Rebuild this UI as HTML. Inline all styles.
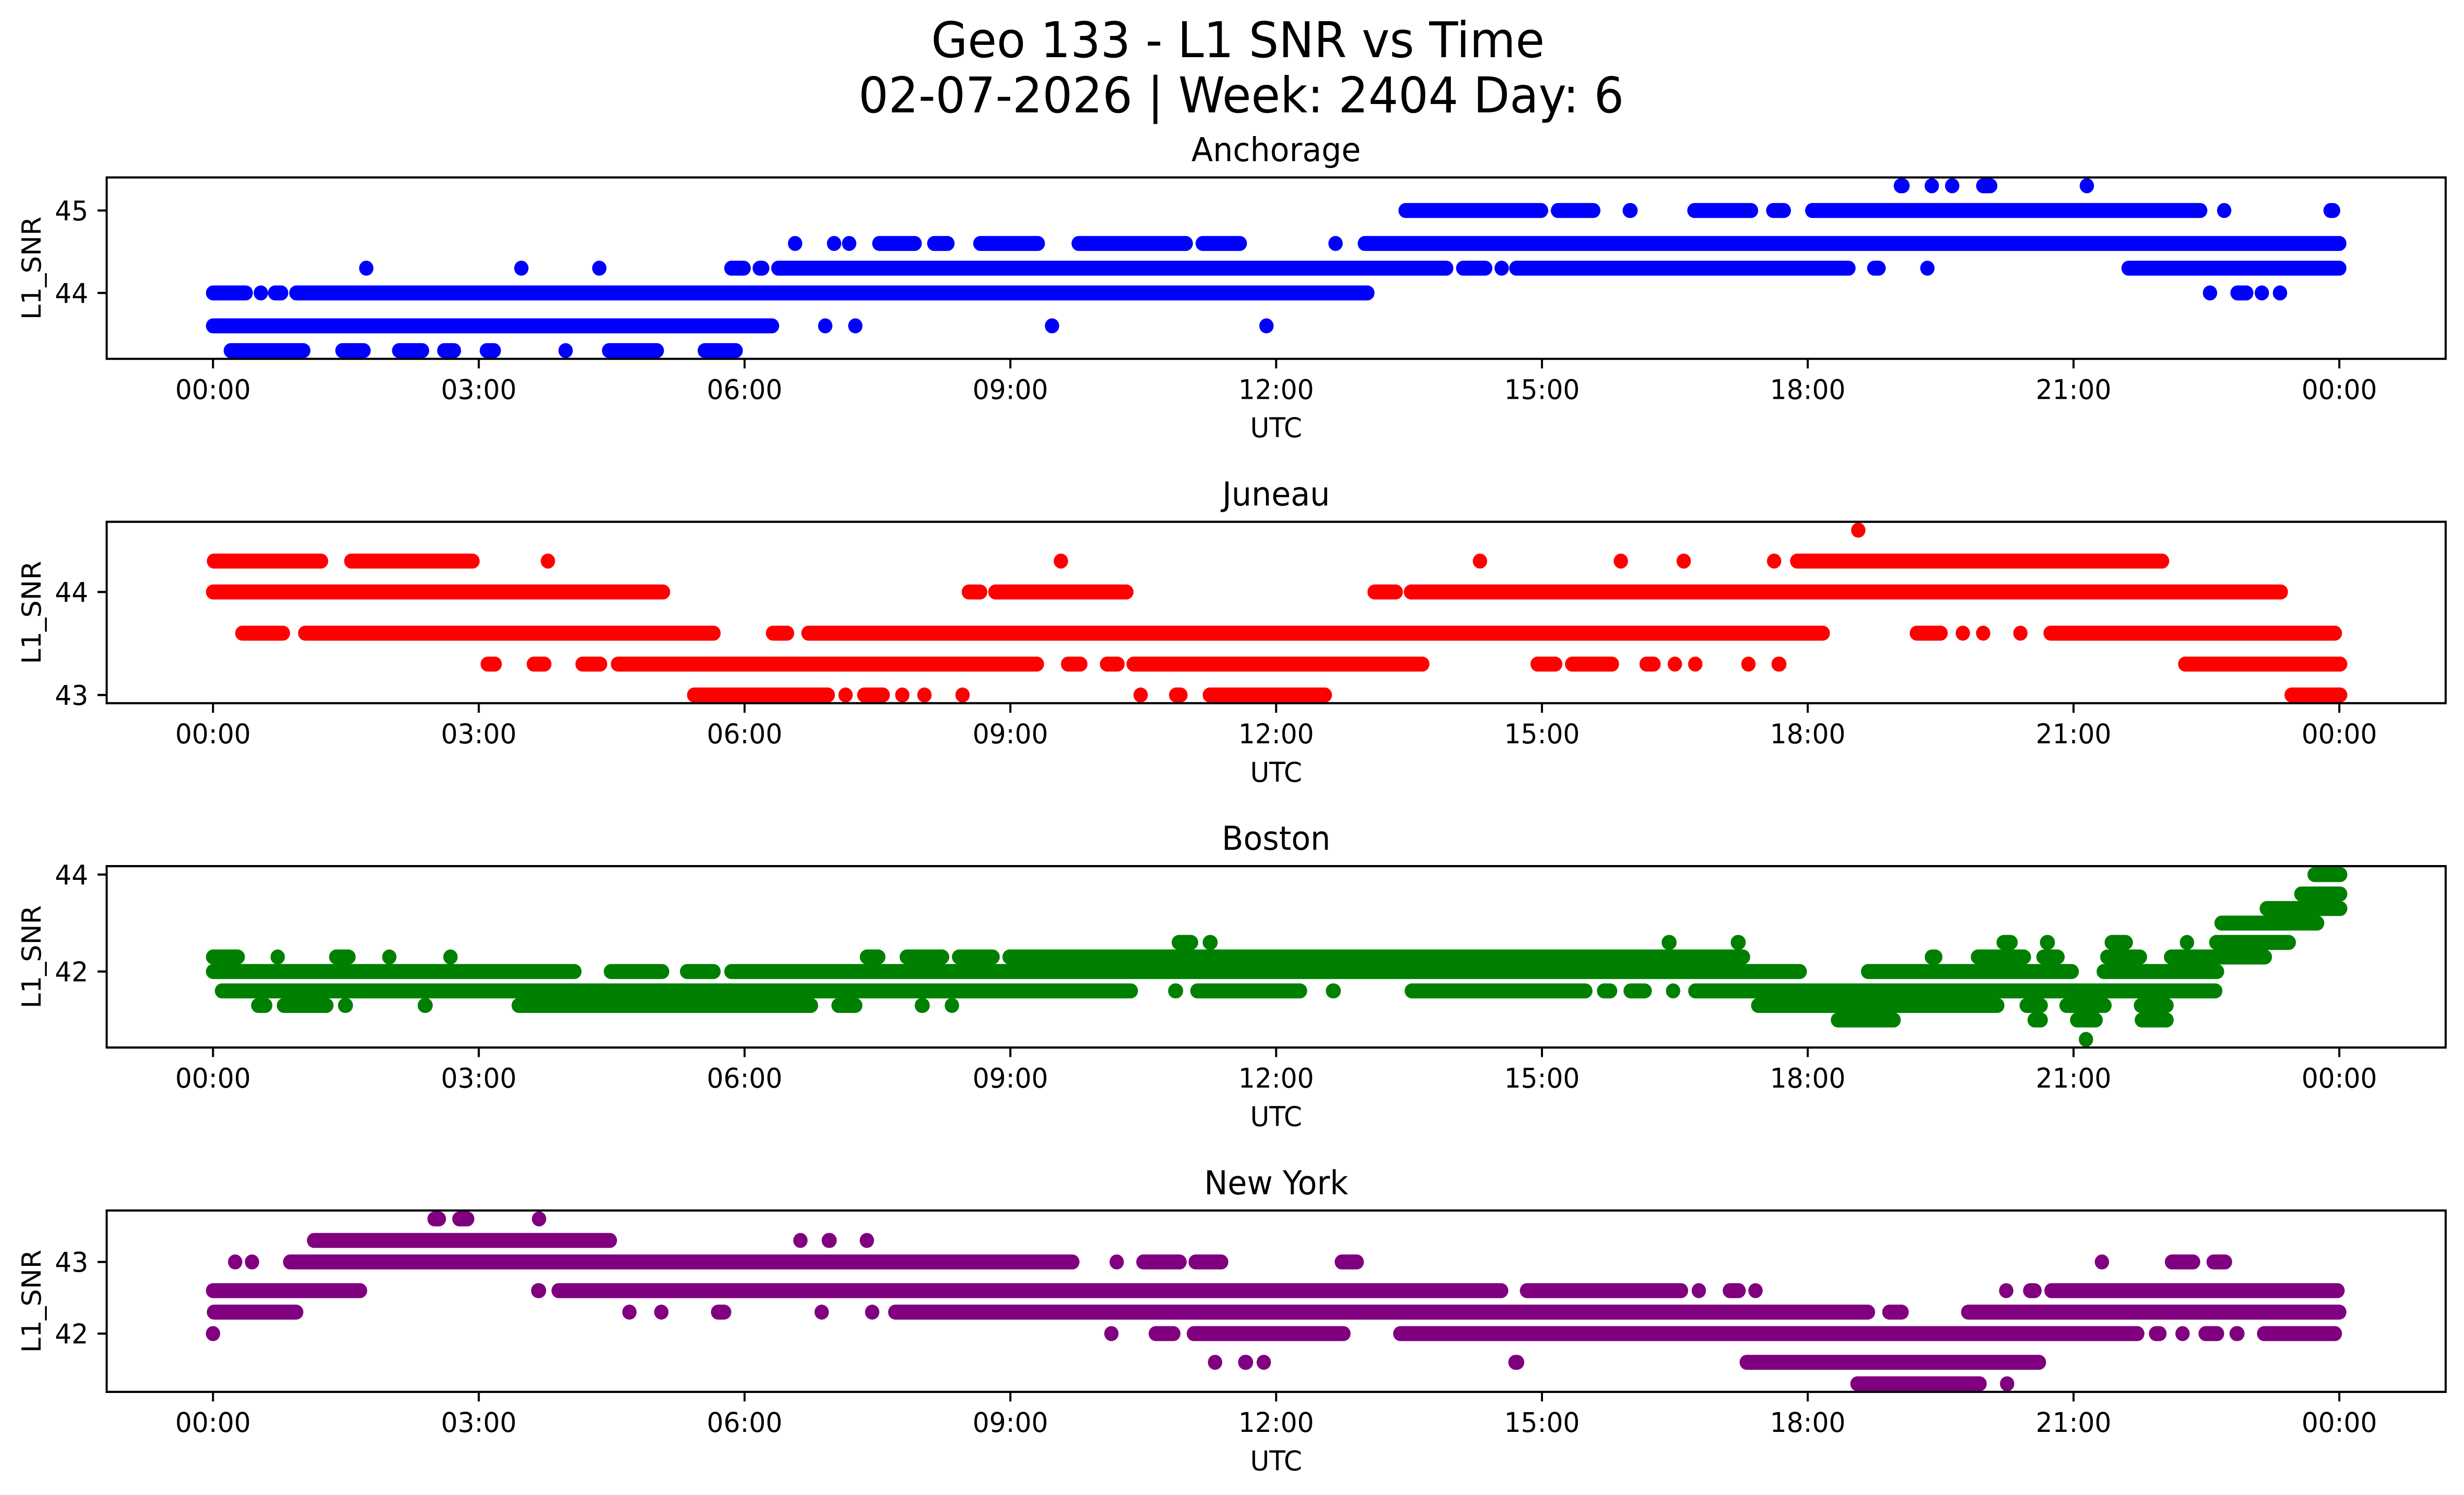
<!DOCTYPE html>
<html><head><meta charset="utf-8"><style>
html,body{margin:0;padding:0;background:#fff;width:100%;height:100%;overflow:hidden}
svg{display:block;position:absolute;left:0;top:0;width:100vw;height:100vh}
text{font-family:"DejaVu Sans","Liberation Sans",sans-serif;fill:#000}
.t{font-size:55.6px}
.st{font-size:66.7px}
.big{font-size:100px}
</style></head><body>
<svg viewBox="0 0 5225 3033" preserveAspectRatio="none" xmlns="http://www.w3.org/2000/svg">
<rect x="0" y="0" width="5225" height="3033" fill="#fff"/>
<text class="big" x="2625" y="116" text-anchor="middle">Geo 133 - L1 SNR vs Time</text>
<text class="big" x="2632" y="228" text-anchor="middle">02-07-2026 | Week: 2404 Day: 6</text>

<!-- ===== ANCHORAGE dots ===== -->
<g fill="#0000ff">
<g transform="translate(451.7,376.9) scale(187.875,1)">
<rect x="18.97" width="0.18" y="-15.2" height="30.4" rx=".081" ry="15.2"/>
<rect x="19.319" width="0.162" y="-15.2" height="30.4" rx=".081" ry="15.2"/>
<rect x="19.549" width="0.162" y="-15.2" height="30.4" rx=".081" ry="15.2"/>
<rect x="19.90" width="0.24" y="-15.2" height="30.4" rx=".081" ry="15.2"/>
<rect x="21.069" width="0.162" y="-15.2" height="30.4" rx=".081" ry="15.2"/>
</g>
<g transform="translate(451.7,427.1) scale(187.875,1)">
<rect x="13.38" width="1.69" y="-15.2" height="30.4" rx=".081" ry="15.2"/>
<rect x="15.10" width="0.56" y="-15.2" height="30.4" rx=".081" ry="15.2"/>
<rect x="15.91" width="0.17" y="-15.2" height="30.4" rx=".081" ry="15.2"/>
<rect x="16.64" width="0.80" y="-15.2" height="30.4" rx=".081" ry="15.2"/>
<rect x="17.53" width="0.28" y="-15.2" height="30.4" rx=".081" ry="15.2"/>
<rect x="17.97" width="4.54" y="-15.2" height="30.4" rx=".081" ry="15.2"/>
<rect x="22.619" width="0.162" y="-15.2" height="30.4" rx=".081" ry="15.2"/>
<rect x="23.82" width="0.19" y="-15.2" height="30.4" rx=".081" ry="15.2"/>
</g>
<g transform="translate(451.7,493.9) scale(187.875,1)">
<rect x="6.489" width="0.162" y="-15.2" height="30.4" rx=".081" ry="15.2"/>
<rect x="6.929" width="0.162" y="-15.2" height="30.4" rx=".081" ry="15.2"/>
<rect x="7.099" width="0.162" y="-15.2" height="30.4" rx=".081" ry="15.2"/>
<rect x="7.44" width="0.56" y="-15.2" height="30.4" rx=".081" ry="15.2"/>
<rect x="8.06" width="0.31" y="-15.2" height="30.4" rx=".081" ry="15.2"/>
<rect x="8.58" width="0.81" y="-15.2" height="30.4" rx=".081" ry="15.2"/>
<rect x="9.69" width="1.37" y="-15.2" height="30.4" rx=".081" ry="15.2"/>
<rect x="11.09" width="0.58" y="-15.2" height="30.4" rx=".081" ry="15.2"/>
<rect x="12.589" width="0.162" y="-15.2" height="30.4" rx=".081" ry="15.2"/>
<rect x="12.92" width="11.16" y="-15.2" height="30.4" rx=".081" ry="15.2"/>
</g>
<g transform="translate(451.7,544.1) scale(187.875,1)">
<rect x="1.649" width="0.162" y="-15.2" height="30.4" rx=".081" ry="15.2"/>
<rect x="3.399" width="0.162" y="-15.2" height="30.4" rx=".081" ry="15.2"/>
<rect x="4.279" width="0.162" y="-15.2" height="30.4" rx=".081" ry="15.2"/>
<rect x="5.77" width="0.30" y="-15.2" height="30.4" rx=".081" ry="15.2"/>
<rect x="6.09" width="0.19" y="-15.2" height="30.4" rx=".081" ry="15.2"/>
<rect x="6.30" width="7.70" y="-15.2" height="30.4" rx=".081" ry="15.2"/>
<rect x="14.03" width="0.41" y="-15.2" height="30.4" rx=".081" ry="15.2"/>
<rect x="14.464" width="0.162" y="-15.2" height="30.4" rx=".081" ry="15.2"/>
<rect x="14.63" width="3.91" y="-15.2" height="30.4" rx=".081" ry="15.2"/>
<rect x="18.67" width="0.21" y="-15.2" height="30.4" rx=".081" ry="15.2"/>
<rect x="19.269" width="0.162" y="-15.2" height="30.4" rx=".081" ry="15.2"/>
<rect x="21.54" width="2.54" y="-15.2" height="30.4" rx=".081" ry="15.2"/>
</g>
<g transform="translate(451.7,594.3) scale(187.875,1)">
<rect x="-0.08" width="0.53" y="-15.2" height="30.4" rx=".081" ry="15.2"/>
<rect x="0.459" width="0.162" y="-15.2" height="30.4" rx=".081" ry="15.2"/>
<rect x="0.62" width="0.23" y="-15.2" height="30.4" rx=".081" ry="15.2"/>
<rect x="0.86" width="12.25" y="-15.2" height="30.4" rx=".081" ry="15.2"/>
<rect x="22.459" width="0.162" y="-15.2" height="30.4" rx=".081" ry="15.2"/>
<rect x="22.77" width="0.26" y="-15.2" height="30.4" rx=".081" ry="15.2"/>
<rect x="23.044" width="0.162" y="-15.2" height="30.4" rx=".081" ry="15.2"/>
<rect x="23.249" width="0.162" y="-15.2" height="30.4" rx=".081" ry="15.2"/>
</g>
<g transform="translate(451.7,661.1) scale(187.875,1)">
<rect x="-0.08" width="6.47" y="-15.2" height="30.4" rx=".081" ry="15.2"/>
<rect x="6.829" width="0.162" y="-15.2" height="30.4" rx=".081" ry="15.2"/>
<rect x="7.169" width="0.162" y="-15.2" height="30.4" rx=".081" ry="15.2"/>
<rect x="9.389" width="0.162" y="-15.2" height="30.4" rx=".081" ry="15.2"/>
<rect x="11.809" width="0.162" y="-15.2" height="30.4" rx=".081" ry="15.2"/>
</g>
<g transform="translate(451.7,711.3) scale(187.875,1)">
<rect x="0.12" width="0.98" y="-15.2" height="30.4" rx=".081" ry="15.2"/>
<rect x="1.38" width="0.40" y="-15.2" height="30.4" rx=".081" ry="15.2"/>
<rect x="2.02" width="0.42" y="-15.2" height="30.4" rx=".081" ry="15.2"/>
<rect x="2.53" width="0.27" y="-15.2" height="30.4" rx=".081" ry="15.2"/>
<rect x="3.01" width="0.24" y="-15.2" height="30.4" rx=".081" ry="15.2"/>
<rect x="3.899" width="0.162" y="-15.2" height="30.4" rx=".081" ry="15.2"/>
<rect x="4.39" width="0.70" y="-15.2" height="30.4" rx=".081" ry="15.2"/>
<rect x="5.47" width="0.51" y="-15.2" height="30.4" rx=".081" ry="15.2"/>
</g>
</g>

<!-- ===== JUNEAU dots ===== -->
<g fill="#ff0000">
<g transform="translate(451.7,1075.6) scale(187.875,1)">
<rect x="18.489" width="0.162" y="-15.2" height="30.4" rx=".081" ry="15.2"/>
</g>
<g transform="translate(451.7,1138.3) scale(187.875,1)">
<rect x="-0.07" width="1.37" y="-15.2" height="30.4" rx=".081" ry="15.2"/>
<rect x="1.48" width="1.53" y="-15.2" height="30.4" rx=".081" ry="15.2"/>
<rect x="3.699" width="0.162" y="-15.2" height="30.4" rx=".081" ry="15.2"/>
<rect x="9.489" width="0.162" y="-15.2" height="30.4" rx=".081" ry="15.2"/>
<rect x="14.219" width="0.162" y="-15.2" height="30.4" rx=".081" ry="15.2"/>
<rect x="15.809" width="0.162" y="-15.2" height="30.4" rx=".081" ry="15.2"/>
<rect x="16.519" width="0.162" y="-15.2" height="30.4" rx=".081" ry="15.2"/>
<rect x="17.539" width="0.162" y="-15.2" height="30.4" rx=".081" ry="15.2"/>
<rect x="17.80" width="4.28" y="-15.2" height="30.4" rx=".081" ry="15.2"/>
</g>
<g transform="translate(451.7,1201.0) scale(187.875,1)">
<rect x="-0.08" width="5.24" y="-15.2" height="30.4" rx=".081" ry="15.2"/>
<rect x="8.45" width="0.29" y="-15.2" height="30.4" rx=".081" ry="15.2"/>
<rect x="8.75" width="1.64" y="-15.2" height="30.4" rx=".081" ry="15.2"/>
<rect x="13.03" width="0.40" y="-15.2" height="30.4" rx=".081" ry="15.2"/>
<rect x="13.44" width="9.98" y="-15.2" height="30.4" rx=".081" ry="15.2"/>
</g>
<g transform="translate(451.7,1284.6) scale(187.875,1)">
<rect x="0.25" width="0.62" y="-15.2" height="30.4" rx=".081" ry="15.2"/>
<rect x="0.96" width="4.77" y="-15.2" height="30.4" rx=".081" ry="15.2"/>
<rect x="6.24" width="0.32" y="-15.2" height="30.4" rx=".081" ry="15.2"/>
<rect x="6.64" width="11.61" y="-15.2" height="30.4" rx=".081" ry="15.2"/>
<rect x="19.15" width="0.43" y="-15.2" height="30.4" rx=".081" ry="15.2"/>
<rect x="19.669" width="0.162" y="-15.2" height="30.4" rx=".081" ry="15.2"/>
<rect x="19.899" width="0.162" y="-15.2" height="30.4" rx=".081" ry="15.2"/>
<rect x="20.319" width="0.162" y="-15.2" height="30.4" rx=".081" ry="15.2"/>
<rect x="20.66" width="3.37" y="-15.2" height="30.4" rx=".081" ry="15.2"/>
</g>
<g transform="translate(451.7,1347.3) scale(187.875,1)">
<rect x="3.02" width="0.24" y="-15.2" height="30.4" rx=".081" ry="15.2"/>
<rect x="3.54" width="0.28" y="-15.2" height="30.4" rx=".081" ry="15.2"/>
<rect x="4.09" width="0.36" y="-15.2" height="30.4" rx=".081" ry="15.2"/>
<rect x="4.49" width="4.89" y="-15.2" height="30.4" rx=".081" ry="15.2"/>
<rect x="9.57" width="0.30" y="-15.2" height="30.4" rx=".081" ry="15.2"/>
<rect x="10.01" width="0.28" y="-15.2" height="30.4" rx=".081" ry="15.2"/>
<rect x="10.31" width="3.42" y="-15.2" height="30.4" rx=".081" ry="15.2"/>
<rect x="14.87" width="0.36" y="-15.2" height="30.4" rx=".081" ry="15.2"/>
<rect x="15.26" width="0.61" y="-15.2" height="30.4" rx=".081" ry="15.2"/>
<rect x="16.10" width="0.24" y="-15.2" height="30.4" rx=".081" ry="15.2"/>
<rect x="16.419" width="0.162" y="-15.2" height="30.4" rx=".081" ry="15.2"/>
<rect x="16.649" width="0.162" y="-15.2" height="30.4" rx=".081" ry="15.2"/>
<rect x="17.249" width="0.162" y="-15.2" height="30.4" rx=".081" ry="15.2"/>
<rect x="17.59" width="0.17" y="-15.2" height="30.4" rx=".081" ry="15.2"/>
<rect x="22.18" width="1.91" y="-15.2" height="30.4" rx=".081" ry="15.2"/>
</g>
<g transform="translate(451.7,1410.0) scale(187.875,1)">
<rect x="5.35" width="1.67" y="-15.2" height="30.4" rx=".081" ry="15.2"/>
<rect x="7.059" width="0.162" y="-15.2" height="30.4" rx=".081" ry="15.2"/>
<rect x="7.27" width="0.37" y="-15.2" height="30.4" rx=".081" ry="15.2"/>
<rect x="7.699" width="0.162" y="-15.2" height="30.4" rx=".081" ry="15.2"/>
<rect x="7.949" width="0.162" y="-15.2" height="30.4" rx=".081" ry="15.2"/>
<rect x="8.379" width="0.162" y="-15.2" height="30.4" rx=".081" ry="15.2"/>
<rect x="10.389" width="0.162" y="-15.2" height="30.4" rx=".081" ry="15.2"/>
<rect x="10.79" width="0.21" y="-15.2" height="30.4" rx=".081" ry="15.2"/>
<rect x="11.17" width="1.46" y="-15.2" height="30.4" rx=".081" ry="15.2"/>
<rect x="23.38" width="0.71" y="-15.2" height="30.4" rx=".081" ry="15.2"/>
</g>
</g>

<!-- ===== BOSTON dots ===== -->
<g fill="#008000">
<g transform="translate(451.7,1774.3) scale(187.875,1)">
<rect x="23.64" width="0.45" y="-15.2" height="30.4" rx=".081" ry="15.2"/>
</g>
<g transform="translate(451.7,1813.7) scale(187.875,1)">
<rect x="23.49" width="0.60" y="-15.2" height="30.4" rx=".081" ry="15.2"/>
</g>
<g transform="translate(451.7,1843.2) scale(187.875,1)">
<rect x="23.10" width="0.99" y="-15.2" height="30.4" rx=".081" ry="15.2"/>
</g>
<g transform="translate(451.7,1872.7) scale(187.875,1)">
<rect x="22.59" width="1.24" y="-15.2" height="30.4" rx=".081" ry="15.2"/>
</g>
<g transform="translate(451.7,1912.0) scale(187.875,1)">
<rect x="10.82" width="0.30" y="-15.2" height="30.4" rx=".081" ry="15.2"/>
<rect x="11.17" width="0.17" y="-15.2" height="30.4" rx=".081" ry="15.2"/>
<rect x="16.35" width="0.17" y="-15.2" height="30.4" rx=".081" ry="15.2"/>
<rect x="17.13" width="0.17" y="-15.2" height="30.4" rx=".081" ry="15.2"/>
<rect x="20.13" width="0.24" y="-15.2" height="30.4" rx=".081" ry="15.2"/>
<rect x="20.62" width="0.17" y="-15.2" height="30.4" rx=".081" ry="15.2"/>
<rect x="21.35" width="0.32" y="-15.2" height="30.4" rx=".081" ry="15.2"/>
<rect x="22.199" width="0.162" y="-15.2" height="30.4" rx=".081" ry="15.2"/>
<rect x="22.53" width="0.98" y="-15.2" height="30.4" rx=".081" ry="15.2"/>
</g>
<g transform="translate(451.7,1941.5) scale(187.875,1)">
<rect x="-0.08" width="0.44" y="-15.2" height="30.4" rx=".081" ry="15.2"/>
<rect x="0.649" width="0.162" y="-15.2" height="30.4" rx=".081" ry="15.2"/>
<rect x="1.31" width="0.30" y="-15.2" height="30.4" rx=".081" ry="15.2"/>
<rect x="1.909" width="0.162" y="-15.2" height="30.4" rx=".081" ry="15.2"/>
<rect x="2.599" width="0.162" y="-15.2" height="30.4" rx=".081" ry="15.2"/>
<rect x="7.30" width="0.29" y="-15.2" height="30.4" rx=".081" ry="15.2"/>
<rect x="7.75" width="0.56" y="-15.2" height="30.4" rx=".081" ry="15.2"/>
<rect x="8.34" width="0.54" y="-15.2" height="30.4" rx=".081" ry="15.2"/>
<rect x="8.91" width="8.44" y="-15.2" height="30.4" rx=".081" ry="15.2"/>
<rect x="19.32" width="0.20" y="-15.2" height="30.4" rx=".081" ry="15.2"/>
<rect x="19.84" width="0.68" y="-15.2" height="30.4" rx=".081" ry="15.2"/>
<rect x="20.58" width="0.32" y="-15.2" height="30.4" rx=".081" ry="15.2"/>
<rect x="21.30" width="0.53" y="-15.2" height="30.4" rx=".081" ry="15.2"/>
<rect x="22.02" width="1.22" y="-15.2" height="30.4" rx=".081" ry="15.2"/>
</g>
<g transform="translate(451.7,1971.0) scale(187.875,1)">
<rect x="-0.08" width="4.24" y="-15.2" height="30.4" rx=".081" ry="15.2"/>
<rect x="4.41" width="0.74" y="-15.2" height="30.4" rx=".081" ry="15.2"/>
<rect x="5.27" width="0.46" y="-15.2" height="30.4" rx=".081" ry="15.2"/>
<rect x="5.77" width="12.22" y="-15.2" height="30.4" rx=".081" ry="15.2"/>
<rect x="18.60" width="2.46" y="-15.2" height="30.4" rx=".081" ry="15.2"/>
<rect x="21.26" width="1.44" y="-15.2" height="30.4" rx=".081" ry="15.2"/>
</g>
<g transform="translate(451.7,2010.3) scale(187.875,1)">
<rect x="0.02" width="10.42" y="-15.2" height="30.4" rx=".081" ry="15.2"/>
<rect x="10.78" width="0.17" y="-15.2" height="30.4" rx=".081" ry="15.2"/>
<rect x="11.03" width="1.32" y="-15.2" height="30.4" rx=".081" ry="15.2"/>
<rect x="12.56" width="0.17" y="-15.2" height="30.4" rx=".081" ry="15.2"/>
<rect x="13.45" width="2.12" y="-15.2" height="30.4" rx=".081" ry="15.2"/>
<rect x="15.62" width="0.23" y="-15.2" height="30.4" rx=".081" ry="15.2"/>
<rect x="15.92" width="0.32" y="-15.2" height="30.4" rx=".081" ry="15.2"/>
<rect x="16.399" width="0.162" y="-15.2" height="30.4" rx=".081" ry="15.2"/>
<rect x="16.65" width="6.03" y="-15.2" height="30.4" rx=".081" ry="15.2"/>
</g>
<g transform="translate(451.7,2039.8) scale(187.875,1)">
<rect x="0.43" width="0.24" y="-15.2" height="30.4" rx=".081" ry="15.2"/>
<rect x="0.72" width="0.64" y="-15.2" height="30.4" rx=".081" ry="15.2"/>
<rect x="1.41" width="0.17" y="-15.2" height="30.4" rx=".081" ry="15.2"/>
<rect x="2.31" width="0.17" y="-15.2" height="30.4" rx=".081" ry="15.2"/>
<rect x="3.37" width="3.46" y="-15.2" height="30.4" rx=".081" ry="15.2"/>
<rect x="6.98" width="0.35" y="-15.2" height="30.4" rx=".081" ry="15.2"/>
<rect x="7.92" width="0.17" y="-15.2" height="30.4" rx=".081" ry="15.2"/>
<rect x="8.259" width="0.162" y="-15.2" height="30.4" rx=".081" ry="15.2"/>
<rect x="17.36" width="2.86" y="-15.2" height="30.4" rx=".081" ry="15.2"/>
<rect x="20.39" width="0.32" y="-15.2" height="30.4" rx=".081" ry="15.2"/>
<rect x="20.84" width="0.59" y="-15.2" height="30.4" rx=".081" ry="15.2"/>
<rect x="21.68" width="0.45" y="-15.2" height="30.4" rx=".081" ry="15.2"/>
</g>
<g transform="translate(451.7,2069.3) scale(187.875,1)">
<rect x="18.26" width="0.79" y="-15.2" height="30.4" rx=".081" ry="15.2"/>
<rect x="20.48" width="0.23" y="-15.2" height="30.4" rx=".081" ry="15.2"/>
<rect x="20.96" width="0.37" y="-15.2" height="30.4" rx=".081" ry="15.2"/>
<rect x="21.69" width="0.44" y="-15.2" height="30.4" rx=".081" ry="15.2"/>
</g>
<g transform="translate(451.7,2108.7) scale(187.875,1)">
<rect x="21.059" width="0.162" y="-15.2" height="30.4" rx=".081" ry="15.2"/>
</g>
</g>

<!-- ===== NEW YORK dots ===== -->
<g fill="#800080">
<g transform="translate(451.7,2472.9) scale(187.875,1)">
<rect x="2.42" width="0.21" y="-15.2" height="30.4" rx=".081" ry="15.2"/>
<rect x="2.70" width="0.25" y="-15.2" height="30.4" rx=".081" ry="15.2"/>
<rect x="3.599" width="0.162" y="-15.2" height="30.4" rx=".081" ry="15.2"/>
</g>
<g transform="translate(451.7,2516.6) scale(187.875,1)">
<rect x="1.06" width="3.50" y="-15.2" height="30.4" rx=".081" ry="15.2"/>
<rect x="6.549" width="0.162" y="-15.2" height="30.4" rx=".081" ry="15.2"/>
<rect x="6.87" width="0.17" y="-15.2" height="30.4" rx=".081" ry="15.2"/>
<rect x="7.299" width="0.162" y="-15.2" height="30.4" rx=".081" ry="15.2"/>
</g>
<g transform="translate(451.7,2560.2) scale(187.875,1)">
<rect x="0.169" width="0.162" y="-15.2" height="30.4" rx=".081" ry="15.2"/>
<rect x="0.359" width="0.162" y="-15.2" height="30.4" rx=".081" ry="15.2"/>
<rect x="0.79" width="8.99" y="-15.2" height="30.4" rx=".081" ry="15.2"/>
<rect x="10.119" width="0.162" y="-15.2" height="30.4" rx=".081" ry="15.2"/>
<rect x="10.42" width="0.57" y="-15.2" height="30.4" rx=".081" ry="15.2"/>
<rect x="11.01" width="0.45" y="-15.2" height="30.4" rx=".081" ry="15.2"/>
<rect x="12.66" width="0.33" y="-15.2" height="30.4" rx=".081" ry="15.2"/>
<rect x="21.239" width="0.162" y="-15.2" height="30.4" rx=".081" ry="15.2"/>
<rect x="22.03" width="0.40" y="-15.2" height="30.4" rx=".081" ry="15.2"/>
<rect x="22.50" width="0.29" y="-15.2" height="30.4" rx=".081" ry="15.2"/>
</g>
<g transform="translate(451.7,2618.4) scale(187.875,1)">
<rect x="-0.08" width="1.82" y="-15.2" height="30.4" rx=".081" ry="15.2"/>
<rect x="3.59" width="0.17" y="-15.2" height="30.4" rx=".081" ry="15.2"/>
<rect x="3.82" width="10.80" y="-15.2" height="30.4" rx=".081" ry="15.2"/>
<rect x="14.75" width="1.90" y="-15.2" height="30.4" rx=".081" ry="15.2"/>
<rect x="16.689" width="0.162" y="-15.2" height="30.4" rx=".081" ry="15.2"/>
<rect x="17.04" width="0.26" y="-15.2" height="30.4" rx=".081" ry="15.2"/>
<rect x="17.329" width="0.162" y="-15.2" height="30.4" rx=".081" ry="15.2"/>
<rect x="20.159" width="0.162" y="-15.2" height="30.4" rx=".081" ry="15.2"/>
<rect x="20.43" width="0.21" y="-15.2" height="30.4" rx=".081" ry="15.2"/>
<rect x="20.67" width="3.39" y="-15.2" height="30.4" rx=".081" ry="15.2"/>
</g>
<g transform="translate(451.7,2662.0) scale(187.875,1)">
<rect x="-0.07" width="1.09" y="-15.2" height="30.4" rx=".081" ry="15.2"/>
<rect x="4.619" width="0.162" y="-15.2" height="30.4" rx=".081" ry="15.2"/>
<rect x="4.979" width="0.162" y="-15.2" height="30.4" rx=".081" ry="15.2"/>
<rect x="5.62" width="0.23" y="-15.2" height="30.4" rx=".081" ry="15.2"/>
<rect x="6.789" width="0.162" y="-15.2" height="30.4" rx=".081" ry="15.2"/>
<rect x="7.359" width="0.162" y="-15.2" height="30.4" rx=".081" ry="15.2"/>
<rect x="7.62" width="11.14" y="-15.2" height="30.4" rx=".081" ry="15.2"/>
<rect x="18.84" width="0.30" y="-15.2" height="30.4" rx=".081" ry="15.2"/>
<rect x="19.73" width="4.35" y="-15.2" height="30.4" rx=".081" ry="15.2"/>
</g>
<g transform="translate(451.7,2705.6) scale(187.875,1)">
<rect x="-0.081" width="0.162" y="-15.2" height="30.4" rx=".081" ry="15.2"/>
<rect x="10.059" width="0.162" y="-15.2" height="30.4" rx=".081" ry="15.2"/>
<rect x="10.56" width="0.36" y="-15.2" height="30.4" rx=".081" ry="15.2"/>
<rect x="10.99" width="1.85" y="-15.2" height="30.4" rx=".081" ry="15.2"/>
<rect x="13.32" width="8.48" y="-15.2" height="30.4" rx=".081" ry="15.2"/>
<rect x="21.85" width="0.20" y="-15.2" height="30.4" rx=".081" ry="15.2"/>
<rect x="22.149" width="0.162" y="-15.2" height="30.4" rx=".081" ry="15.2"/>
<rect x="22.41" width="0.29" y="-15.2" height="30.4" rx=".081" ry="15.2"/>
<rect x="22.76" width="0.17" y="-15.2" height="30.4" rx=".081" ry="15.2"/>
<rect x="23.07" width="0.96" y="-15.2" height="30.4" rx=".081" ry="15.2"/>
</g>
<g transform="translate(451.7,2763.8) scale(187.875,1)">
<rect x="11.229" width="0.162" y="-15.2" height="30.4" rx=".081" ry="15.2"/>
<rect x="11.57" width="0.17" y="-15.2" height="30.4" rx=".081" ry="15.2"/>
<rect x="11.779" width="0.162" y="-15.2" height="30.4" rx=".081" ry="15.2"/>
<rect x="14.62" width="0.18" y="-15.2" height="30.4" rx=".081" ry="15.2"/>
<rect x="17.23" width="3.46" y="-15.2" height="30.4" rx=".081" ry="15.2"/>
</g>
<g transform="translate(451.7,2807.4) scale(187.875,1)">
<rect x="18.48" width="1.54" y="-15.2" height="30.4" rx=".081" ry="15.2"/>
<rect x="20.169" width="0.162" y="-15.2" height="30.4" rx=".081" ry="15.2"/>
</g>
</g>

<!-- ===== Axes frames, ticks, labels ===== -->
<g>
<rect x="226.2" y="360" width="4959.9" height="368" fill="none" stroke="#000" stroke-width="4.4"/>
<g stroke="#000" stroke-width="4.4">
<line x1="451.7" y1="728" x2="451.7" y2="747.4"/>
<line x1="1015.3" y1="728" x2="1015.3" y2="747.4"/>
<line x1="1578.9" y1="728" x2="1578.9" y2="747.4"/>
<line x1="2142.5" y1="728" x2="2142.5" y2="747.4"/>
<line x1="2706.1" y1="728" x2="2706.1" y2="747.4"/>
<line x1="3269.8" y1="728" x2="3269.8" y2="747.4"/>
<line x1="3833.4" y1="728" x2="3833.4" y2="747.4"/>
<line x1="4397.0" y1="728" x2="4397.0" y2="747.4"/>
<line x1="4960.6" y1="728" x2="4960.6" y2="747.4"/>
</g>
<g class="t" text-anchor="middle">
<text x="451.7" y="809.4">00:00</text>
<text x="1015.3" y="809.4">03:00</text>
<text x="1578.9" y="809.4">06:00</text>
<text x="2142.5" y="809.4">09:00</text>
<text x="2706.1" y="809.4">12:00</text>
<text x="3269.8" y="809.4">15:00</text>
<text x="3833.4" y="809.4">18:00</text>
<text x="4397.0" y="809.4">21:00</text>
<text x="4960.6" y="809.4">00:00</text>
<text x="2706.1" y="887.2">UTC</text>
</g>
<text class="t" text-anchor="middle" transform="translate(86,544) rotate(-90)">L1_SNR</text>
</g>

<g transform="translate(0,698.6)">
<rect x="226.2" y="360" width="4959.9" height="368" fill="none" stroke="#000" stroke-width="4.4"/>
<g stroke="#000" stroke-width="4.4">
<line x1="451.7" y1="728" x2="451.7" y2="747.4"/>
<line x1="1015.3" y1="728" x2="1015.3" y2="747.4"/>
<line x1="1578.9" y1="728" x2="1578.9" y2="747.4"/>
<line x1="2142.5" y1="728" x2="2142.5" y2="747.4"/>
<line x1="2706.1" y1="728" x2="2706.1" y2="747.4"/>
<line x1="3269.8" y1="728" x2="3269.8" y2="747.4"/>
<line x1="3833.4" y1="728" x2="3833.4" y2="747.4"/>
<line x1="4397.0" y1="728" x2="4397.0" y2="747.4"/>
<line x1="4960.6" y1="728" x2="4960.6" y2="747.4"/>
</g>
<g class="t" text-anchor="middle">
<text x="451.7" y="809.4">00:00</text>
<text x="1015.3" y="809.4">03:00</text>
<text x="1578.9" y="809.4">06:00</text>
<text x="2142.5" y="809.4">09:00</text>
<text x="2706.1" y="809.4">12:00</text>
<text x="3269.8" y="809.4">15:00</text>
<text x="3833.4" y="809.4">18:00</text>
<text x="4397.0" y="809.4">21:00</text>
<text x="4960.6" y="809.4">00:00</text>
<text x="2706.1" y="887.2">UTC</text>
</g>
<text class="t" text-anchor="middle" transform="translate(86,544) rotate(-90)">L1_SNR</text>
</g>

<g transform="translate(0,1397.2)">
<rect x="226.2" y="360" width="4959.9" height="368" fill="none" stroke="#000" stroke-width="4.4"/>
<g stroke="#000" stroke-width="4.4">
<line x1="451.7" y1="728" x2="451.7" y2="747.4"/>
<line x1="1015.3" y1="728" x2="1015.3" y2="747.4"/>
<line x1="1578.9" y1="728" x2="1578.9" y2="747.4"/>
<line x1="2142.5" y1="728" x2="2142.5" y2="747.4"/>
<line x1="2706.1" y1="728" x2="2706.1" y2="747.4"/>
<line x1="3269.8" y1="728" x2="3269.8" y2="747.4"/>
<line x1="3833.4" y1="728" x2="3833.4" y2="747.4"/>
<line x1="4397.0" y1="728" x2="4397.0" y2="747.4"/>
<line x1="4960.6" y1="728" x2="4960.6" y2="747.4"/>
</g>
<g class="t" text-anchor="middle">
<text x="451.7" y="809.4">00:00</text>
<text x="1015.3" y="809.4">03:00</text>
<text x="1578.9" y="809.4">06:00</text>
<text x="2142.5" y="809.4">09:00</text>
<text x="2706.1" y="809.4">12:00</text>
<text x="3269.8" y="809.4">15:00</text>
<text x="3833.4" y="809.4">18:00</text>
<text x="4397.0" y="809.4">21:00</text>
<text x="4960.6" y="809.4">00:00</text>
<text x="2706.1" y="887.2">UTC</text>
</g>
<text class="t" text-anchor="middle" transform="translate(86,544) rotate(-90)">L1_SNR</text>
</g>

<g transform="translate(0,2095.8)">
<rect x="226.2" y="360" width="4959.9" height="368" fill="none" stroke="#000" stroke-width="4.4"/>
<g stroke="#000" stroke-width="4.4">
<line x1="451.7" y1="728" x2="451.7" y2="747.4"/>
<line x1="1015.3" y1="728" x2="1015.3" y2="747.4"/>
<line x1="1578.9" y1="728" x2="1578.9" y2="747.4"/>
<line x1="2142.5" y1="728" x2="2142.5" y2="747.4"/>
<line x1="2706.1" y1="728" x2="2706.1" y2="747.4"/>
<line x1="3269.8" y1="728" x2="3269.8" y2="747.4"/>
<line x1="3833.4" y1="728" x2="3833.4" y2="747.4"/>
<line x1="4397.0" y1="728" x2="4397.0" y2="747.4"/>
<line x1="4960.6" y1="728" x2="4960.6" y2="747.4"/>
</g>
<g class="t" text-anchor="middle">
<text x="451.7" y="809.4">00:00</text>
<text x="1015.3" y="809.4">03:00</text>
<text x="1578.9" y="809.4">06:00</text>
<text x="2142.5" y="809.4">09:00</text>
<text x="2706.1" y="809.4">12:00</text>
<text x="3269.8" y="809.4">15:00</text>
<text x="3833.4" y="809.4">18:00</text>
<text x="4397.0" y="809.4">21:00</text>
<text x="4960.6" y="809.4">00:00</text>
<text x="2706.1" y="887.2">UTC</text>
</g>
<text class="t" text-anchor="middle" transform="translate(86,544) rotate(-90)">L1_SNR</text>
</g>

<!-- subplot titles -->
<g class="st" text-anchor="middle">
<text x="2706.1" y="327">Anchorage</text>
<text x="2706.1" y="1025.6">Juneau</text>
<text x="2706.1" y="1724.2">Boston</text>
<text x="2706.1" y="2422.8">New York</text>
</g>

<!-- y ticks -->
<g stroke="#000" stroke-width="4.4">
<line x1="206.8" y1="427.1" x2="226.2" y2="427.1"/>
<line x1="206.8" y1="594.3" x2="226.2" y2="594.3"/>
<line x1="206.8" y1="1201.0" x2="226.2" y2="1201.0"/>
<line x1="206.8" y1="1410.0" x2="226.2" y2="1410.0"/>
<line x1="206.8" y1="1774.3" x2="226.2" y2="1774.3"/>
<line x1="206.8" y1="1971.0" x2="226.2" y2="1971.0"/>
<line x1="206.8" y1="2560.2" x2="226.2" y2="2560.2"/>
<line x1="206.8" y1="2705.6" x2="226.2" y2="2705.6"/>
</g>
<g class="t" text-anchor="end">
<text x="187.2" y="447.1">45</text>
<text x="187.2" y="614.3">44</text>
<text x="187.2" y="1221.0">44</text>
<text x="187.2" y="1430.0">43</text>
<text x="187.2" y="1794.3">44</text>
<text x="187.2" y="1991.0">42</text>
<text x="187.2" y="2580.2">43</text>
<text x="187.2" y="2725.6">42</text>
</g>
</svg>
</body></html>
